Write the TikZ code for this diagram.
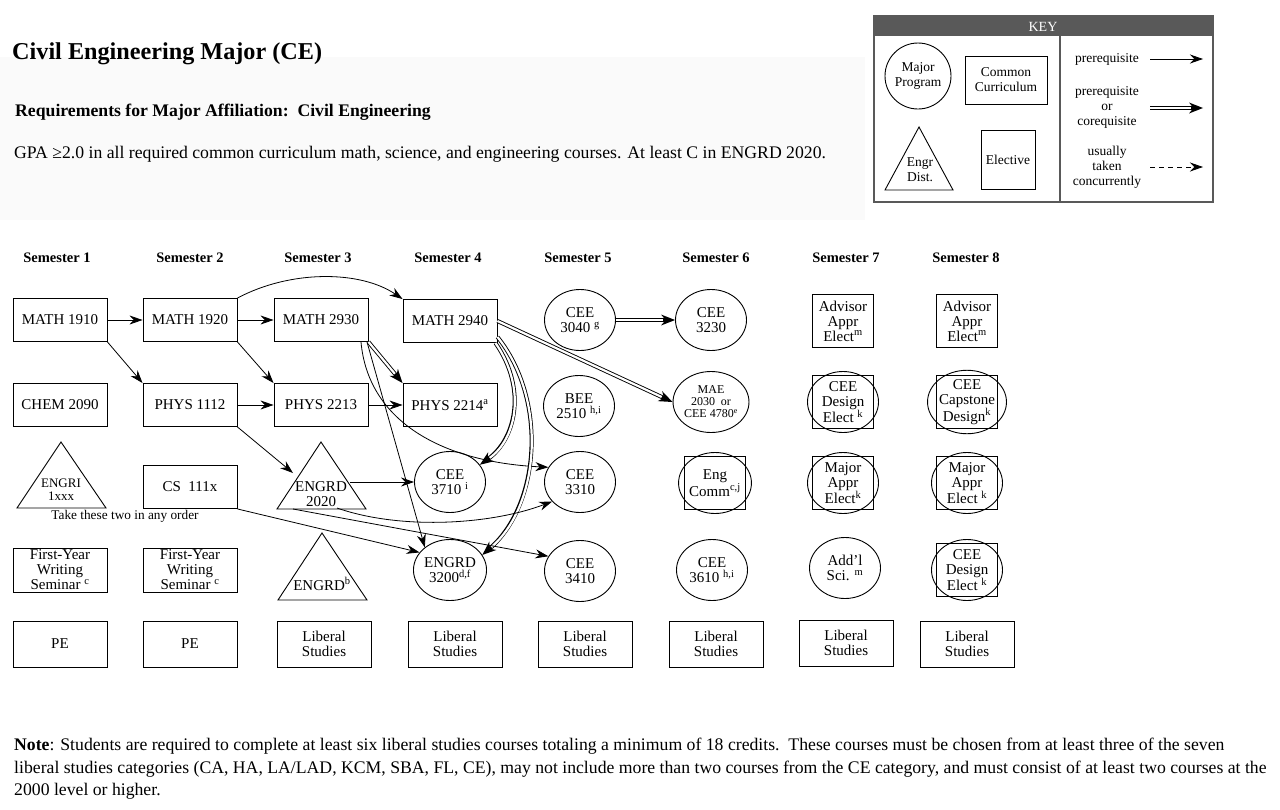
\documentclass[tikz,border=0pt]{standalone}
\usepackage{fontspec}
\setmainfont{Liberation Serif}
\usetikzlibrary{shapes.geometric,arrows.meta}
\newcommand{\spx}[1]{\textsuperscript{#1}}
\newcommand{\dblarrow}[1]{\draw[darrA] #1; \draw[darrB] #1;}
\definecolor{keygray}{HTML}{595959}
\definecolor{bggray}{HTML}{FAFAFA}
\begin{document}
\begin{tikzpicture}[x=1pt,y=-1pt,
  every node/.style={font=\fontsize{15}{15}\selectfont, align=center, inner sep=0pt},
  cbox/.style={draw, line width=0.9pt, minimum width=94pt, minimum height=43pt},
  lbox/.style={draw, line width=0.9pt, minimum width=94pt, minimum height=46pt},
  mcirc/.style={draw, ellipse, line width=0.9pt, minimum width=71pt, minimum height=61pt},
  ebox/.style={draw, line width=0.9pt, minimum width=61pt, minimum height=53pt},
  tri/.style={line width=0.9pt},
  arr/.style={line width=0.8pt, -{Stealth[length=13pt,width=9pt]}},
  darrA/.style={line width=4pt, -{Stealth[length=14pt,width=11pt,line width=0pt]}},
  darrB/.style={draw=white, line width=2.2pt, shorten >=12pt},
  sem/.style={font=\bfseries\fontsize{14.5}{16}\selectfont},
  keyt/.style={font=\fontsize{13.5}{15}\selectfont}
]
\useasboundingbox (0,0) rectangle (1280,809);
\fill[white] (0,0) rectangle (1280,809);
\fill[bggray] (0,57) rectangle (865,220);

% header
\node[anchor=base west, font=\bfseries\fontsize{24.2}{24}\selectfont] (title) at (12,59) {Civil Engineering Major (CE)};
\node[anchor=base west, font=\bfseries\fontsize{17.7}{18}\selectfont] (req) at (15,116) {Requirements for Major Affiliation:\ \ Civil Engineering};
\node[anchor=base west, font=\fontsize{17.7}{18}\selectfont] (gpa) at (14,158) {GPA ≥2.0 in all required common curriculum math, science, and engineering courses. At least C in ENGRD 2020.};

% key
\fill[keygray] (874,16) rectangle (1213,36);
\draw[line width=1.6pt, draw=keygray] (874,16) rectangle (1213,202);
\draw[line width=1.2pt, draw=keygray] (1060,36) -- (1060,202);
\node[text=white, font=\fontsize{14}{14}\selectfont] (keytitle) at (1043,27) {KEY};
\node[draw, circle, line width=0.9pt, minimum size=66pt, keyt] (kmaj) at (918,76) {Major\\Program};
\node[draw, line width=0.9pt, minimum width=82pt, minimum height=48pt, keyt] (kcom) at (1006,80) {Common\\Curriculum};
\draw[tri] (885,190) -- (919,127) -- (953,190) -- cycle;
\node[keyt] (kdist) at (920,170) {Engr\\Dist.};
\node[draw, line width=0.9pt, minimum width=54pt, minimum height=59pt, keyt] (kele) at (1008,160) {Elective};
\node[keyt] (kpre) at (1107,59) {prerequisite};
\node[keyt] (kcor) at (1107,107) {prerequisite\\or\\corequisite};
\node[keyt] (kcon) at (1107,167) {usually\\taken\\concurrently};
\coordinate (k1a) at (1150,59); \coordinate (k1b) at (1203,59);
\coordinate (k2a) at (1150,108); \coordinate (k2b) at (1203,108);
\coordinate (k3a) at (1150,167); \coordinate (k3b) at (1203,167);
\draw[arr] (k1a) -- (k1b);
\dblarrow{(k2a) -- (k2b)}
\draw[arr, dashed, dash pattern=on 5pt off 4pt] (k3a) -- (k3b);

% semester labels
\node[sem] (s1) at (57,258) {Semester 1};
\node[sem] (s2) at (190,258) {Semester 2};
\node[sem] (s3) at (318,258) {Semester 3};
\node[sem] (s4) at (448,258) {Semester 4};
\node[sem] (s5) at (578,258) {Semester 5};
\node[sem] (s6) at (716,258) {Semester 6};
\node[sem] (s7) at (846,258) {Semester 7};
\node[sem] (s8) at (966,258) {Semester 8};

% row 1
\node[cbox] (m1910) at (60,320) {MATH 1910};
\node[cbox] (m1920) at (190,320) {MATH 1920};
\node[cbox] (m2930) at (321,320) {MATH 2930};
\node[cbox] (m2940) at (450,321) {MATH 2940};
\node[mcirc] (c3040) at (580,320) {CEE\\3040 \spx{g}};
\node[mcirc] (c3230) at (711,320) {CEE\\3230};
\node[ebox] (adv7) at (843,321) {Advisor\\Appr\\Elect\spx{m}};
\node[ebox] (adv8) at (967,321) {Advisor\\Appr\\Elect\spx{m}};

% row 2
\node[cbox] (chem) at (60,405) {CHEM 2090};
\node[cbox] (p1112) at (190,405) {PHYS 1112};
\node[cbox] (p2213) at (321,405) {PHYS 2213};
\node[cbox] (p2214) at (450,405) {PHYS 2214\spx{a}};
\node[mcirc] (b2510) at (579,406) {BEE\\2510 \spx{h,i}};
\node[mcirc, font=\fontsize{12}{12}\selectfont] (mae) at (711,402) {MAE\\2030\ \ or\\CEE 4780\spx{e}};
\node[ebox] (cd7box) at (843,402) {};
\node[mcirc] (cd7) at (843,402) {CEE\\Design\\Elect \spx{k}};
\node[ebox] (cap8box) at (967,402) {};
\node[mcirc] (cap8) at (967,402) {CEE\\Capstone\\Design\spx{k}};

% row 3
\draw[tri] (17,508) -- (61,442) -- (106,508) -- cycle;
\node[font=\fontsize{13}{13}\selectfont] (engri) at (61,490) {ENGRI\\1xxx};
\node[cbox] (cs) at (190,487) {CS\ \ 111x};
\node[font=\fontsize{13.3}{14}\selectfont] (anyorder) at (125,516) {Take these two in any order};
\draw[tri] (277,509) -- (321,442) -- (366,509) -- cycle;
\node (e2020) at (321,494) {ENGRD\\2020};
\node[mcirc] (c3710) at (450,482) {CEE\\3710 \spx{i}};
\node[mcirc] (c3310) at (580,482) {CEE\\3310};
\node[ebox] (ecbox) at (715,483) {};
\node[mcirc] (ec) at (715,483) {Eng\\Comm\spx{c,j}};
\node[ebox] (mj7box) at (843,483) {};
\node[mcirc] (mj7) at (843,483) {Major\\Appr\\Elect\spx{k}};
\node[ebox] (mj8box) at (967,483) {};
\node[mcirc] (mj8) at (967,483) {Major\\Appr\\Elect \spx{k}};

% row 4
\node[cbox, minimum height=44pt] (fy1) at (60,570) {First-Year\\Writing\\Seminar \spx{c}};
\node[cbox, minimum height=44pt] (fy2) at (190,570) {First-Year\\Writing\\Seminar \spx{c}};
\draw[tri] (278,600) -- (322,533) -- (367,600) -- cycle;
\node (engrdb) at (322,584) {ENGRD\spx{b}};
\node[mcirc] (e3200) at (450,570) {ENGRD\\3200\spx{d,f}};
\node[mcirc] (c3410) at (580,571) {CEE\\3410};
\node[mcirc] (c3610) at (712,570) {CEE\\3610 \spx{h,i}};
\node[mcirc] (addl) at (845,568) {Add’l\\Sci. \spx{m}};
\node[ebox] (cd8box) at (967,570) {};
\node[mcirc] (cd8) at (967,570) {CEE\\Design\\Elect \spx{k}};

% row 5
\node[lbox] (pe1) at (60,644) {PE};
\node[lbox] (pe2) at (190,644) {PE};
\node[lbox] (lib3) at (324,644) {Liberal\\Studies};
\node[lbox] (lib4) at (455,644) {Liberal\\Studies};
\node[lbox] (lib5) at (585,644) {Liberal\\Studies};
\node[lbox] (lib6) at (716,644) {Liberal\\Studies};
\node[lbox] (lib7) at (846,643) {Liberal\\Studies};
\node[lbox] (lib8) at (967,644) {Liberal\\Studies};

% connector anchors on triangles
\coordinate (e2020l) at (293,473);
\coordinate (e2020r) at (350,482);
\coordinate (e2020b1) at (337,508);
\coordinate (e2020b2) at (293,509);

% connectors
\draw[arr] (m1910) -- (m1920);
\draw[arr] (m1910.south east) -- (p1112.north west);
\draw[arr] (m1920) -- (m2930);
\draw[arr] (m1920.north east) .. controls (290,270) and (360,270) .. (m2940.north west);
\draw[arr] (m1920.south east) -- (p2213.north west);
\draw[arr] (p1112) -- (p2213);
\draw[arr] (p1112.south east) -- (e2020l);
\draw[arr] (p2213) -- (p2214);
\dblarrow{(m2930.south east) -- (p2214.north west)}
\draw[arr] ([xshift=40pt]m2930.south) .. controls (368,420) and (440,462) .. (c3310.155);
\draw[arr] ([xshift=46pt]m2930.south) -- (e3200.138);
\dblarrow{(m2940.east) -- (mae.west)}
\dblarrow{([xshift=-2pt]m2940.south east) .. controls (528,390) and (515,440) .. (c3710.30)}
\dblarrow{([yshift=6pt]m2940.south east) .. controls (548,400) and (540,505) .. (e3200.25)}
\dblarrow{(c3040.east) -- (c3230.west)}
\draw[arr] (e2020r) -- (c3710.west);
\draw[arr] (e2020b1) .. controls (400,530) and (490,525) .. (c3310.215);
\draw[arr] (e2020b2) -- (c3410.155);
\draw[arr] (cs.south east) -- (e3200.150);

% note
\node[anchor=base west, font=\fontsize{17.7}{18}\selectfont] (note1) at (14,750) {\textbf{Note}: Students are required to complete at least six liberal studies courses totaling a minimum of 18 credits.\ \ These courses must be chosen from at least three of the seven};
\node[anchor=base west, font=\fontsize{17.7}{18}\selectfont] (note2) at (14,773) {liberal studies categories (CA, HA, LA/LAD, KCM, SBA, FL, CE), may not include more than two courses from the CE category, and must consist of at least two courses at the};
\node[anchor=base west, font=\fontsize{17.7}{18}\selectfont] (note3) at (14,795) {2000 level or higher.};
\end{tikzpicture}
\end{document}
